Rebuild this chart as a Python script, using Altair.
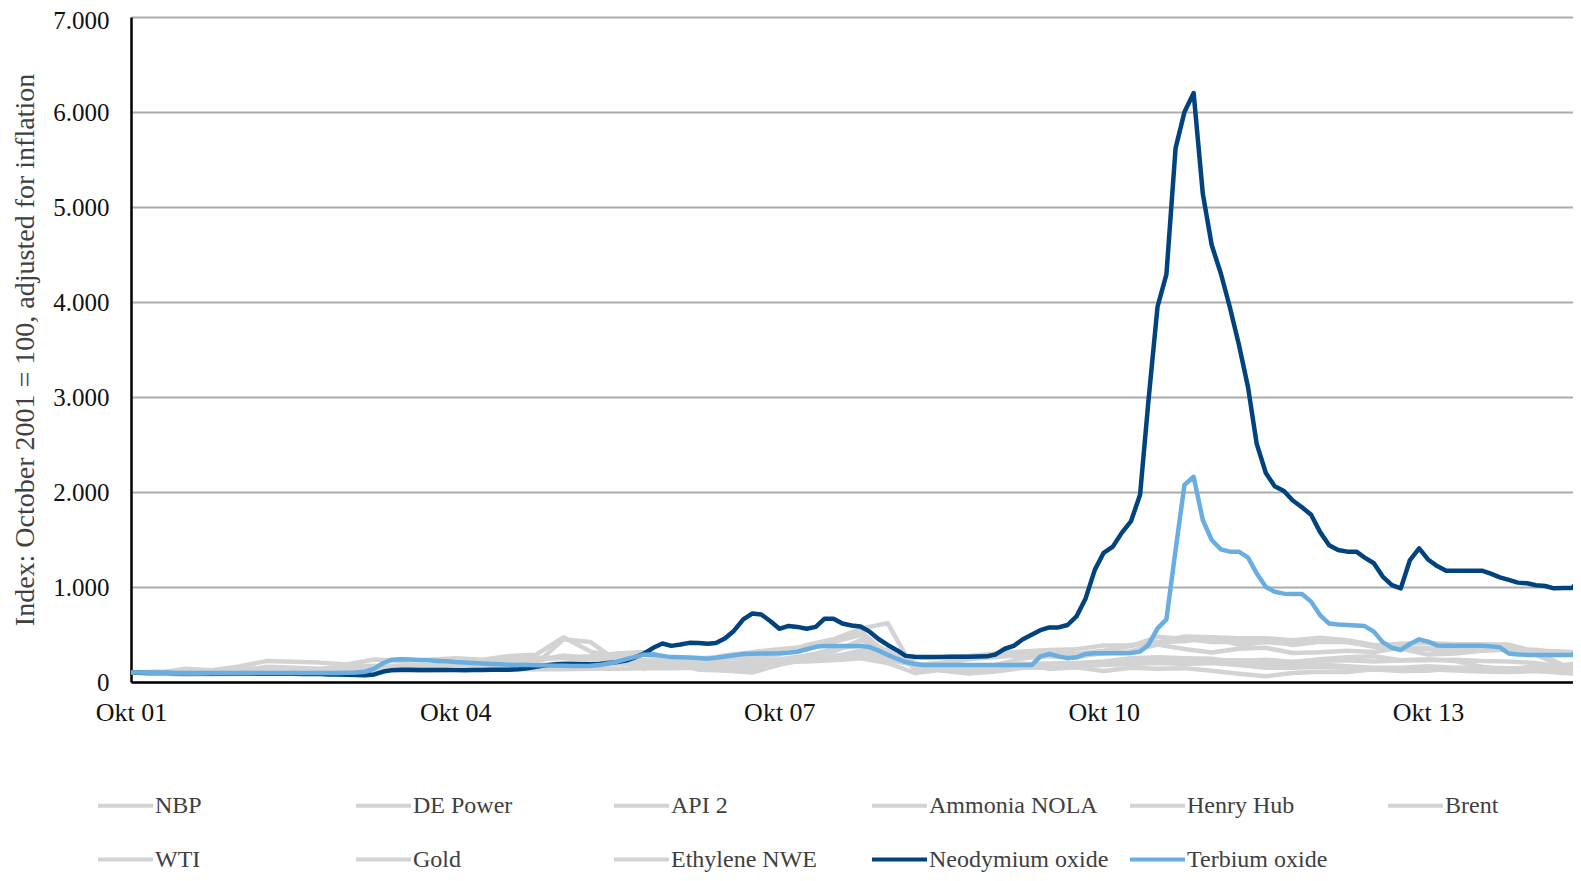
import altair as alt
import pandas as pd

# ---------------- data ----------------
# monthly dates, Oct 2001 .. Mar 2015
month_dates = pd.date_range("2001-10-01", periods=162, freq="MS").strftime("%Y-%m-%d").tolist()
# quarterly dates, Oct 2001 .. Apr 2015
quarter_dates = pd.date_range("2001-10-01", periods=55, freq="3MS").strftime("%Y-%m-%d").tolist()

neodymium = [
    100, 98, 96, 95, 94, 93, 92, 92, 91, 90, 90, 90, 89, 89, 88, 88, 87, 87, 86, 85, 84, 83, 80, 78, 75, 73,
    72, 80, 110, 125, 128, 128, 127, 127, 126, 126,
    125, 125, 126, 127, 128, 128, 130, 135, 145, 160,
    175, 185, 190, 190, 188, 188, 190, 200, 210, 225,
    260, 300, 360, 405, 380, 395, 412, 410, 402, 410,
    460, 540, 660, 720, 710, 640, 560, 590, 580, 560,
    580, 665, 665, 615, 595, 585, 530, 450, 390, 335,
    275, 265, 262, 262, 263, 265, 265, 266, 268, 270,
    290, 350, 380, 450, 500, 545, 575, 575, 600, 690,
    880, 1180, 1360, 1425, 1570, 1690, 1970, 2950, 3950, 4290,
    5620, 6000, 6200, 5140, 4600, 4300, 3950, 3550, 3100, 2510,
    2200, 2060, 2010, 1910, 1840, 1760, 1580, 1440, 1390, 1372,
    1372, 1310, 1250, 1110, 1020, 986, 1284, 1407, 1290, 1220,
    1172, 1172, 1172, 1172, 1172, 1140, 1102, 1075, 1046, 1039,
    1018, 1010, 986, 990, 990, 1100,
]

terbium = [
    100, 99, 98, 97, 97, 96, 96, 95, 95, 95, 95, 95, 95, 95, 95, 95, 95, 95, 95, 95, 95, 95, 95, 96, 97, 100,
    108, 140, 200, 235, 240, 238, 232, 228, 222, 218,
    210, 205, 200, 196, 190, 186, 182, 180, 178, 176,
    175, 172, 170, 168, 168, 170, 178, 195, 214, 240,
    265, 288, 290, 275, 262, 260, 258, 252, 246, 255,
    268, 282, 295, 298, 300, 300, 302, 308, 318, 345,
    370, 379, 379, 379, 379, 379, 368, 330, 285, 245,
    210, 190, 180, 178, 178, 179, 179, 180, 180, 180,
    179, 179, 179, 179, 180, 270, 295, 270, 250, 260,
    295, 302, 302, 302, 302, 305, 320, 390, 565, 660,
    1390, 2075, 2160, 1705, 1495, 1396, 1372, 1372, 1310, 1144,
    1000, 950, 930, 926, 926, 846, 705, 615, 605, 600,
    595, 589, 530, 420, 360, 337, 400, 449, 425, 385,
    382, 382, 382, 382, 382, 375, 365, 300, 290, 285,
    284, 284, 284, 284, 284, 380,
]

nbp = [100, 95, 90, 85, 105, 130, 100, 95, 115, 130,
       125, 120, 160, 190, 170, 190, 450, 420, 220, 140,
       200, 150, 120, 100, 180, 240, 270, 300, 290, 200,
       120, 90, 110, 150, 150, 170, 200, 220, 240, 210,
       230, 230, 220, 210, 240, 260, 270, 230, 240, 220,
       160, 130, 170, 170, 160]
de_power = [100, 110, 85, 90, 110, 120, 110, 125, 130, 120,
            115, 120, 130, 150, 155, 175, 200, 240, 190, 230,
            200, 130, 120, 140, 230, 260, 270, 330, 300, 180,
            140, 140, 150, 160, 160, 170, 180, 190, 200, 190,
            200, 180, 150, 150, 160, 150, 130, 125, 135, 120,
            110, 105, 115, 110, 100]
api2 = [100, 90, 80, 82, 85, 95, 95, 105, 115, 160,
        175, 180, 180, 145, 140, 135, 135, 140, 140, 145,
        145, 150, 160, 180, 230, 280, 320, 440, 330, 185,
        145, 150, 160, 190, 195, 200, 215, 250, 260, 250,
        245, 205, 180, 175, 185, 165, 150, 150, 165, 150,
        150, 145, 145, 120, 115]
ammonia = [100, 90, 85, 90, 110, 160, 150, 140, 160, 170,
           165, 170, 190, 200, 215, 220, 280, 250, 215, 210,
           230, 250, 260, 260, 290, 390, 450, 560, 620, 110,
           160, 150, 180, 250, 270, 260, 310, 390, 420, 430,
           470, 390, 420, 400, 440, 420, 370, 350, 290, 300,
           330, 340, 340, 300, 280]
henry_hub = [100, 95, 140, 124, 163, 220, 212, 204, 184, 237,
             222, 234, 249, 235, 273, 288, 470, 320, 263, 226,
             215, 235, 270, 221, 239, 275, 350, 382, 230, 181,
             122, 118, 139, 196, 136, 156, 115, 149, 139, 146,
             119, 87, 61, 94, 107, 105, 134, 115, 118, 147,
             144, 125, 119, 94, 81]
brent = [100, 94, 124, 124, 132, 147, 117, 134, 138, 142,
         153, 173, 227, 196, 231, 255, 259, 272, 300, 316,
         250, 226, 281, 314, 345, 372, 440, 536, 290, 179,
         203, 264, 297, 306, 333, 297, 329, 378, 476, 453,
         422, 422, 450, 390, 423, 422, 383, 402, 410, 398,
         398, 394, 320, 176, 220]
wti = [100, 88, 115, 120, 128, 145, 122, 133, 126, 142,
       154, 175, 225, 197, 216, 240, 252, 260, 275, 290,
       232, 210, 246, 285, 322, 345, 420, 495, 290, 155,
       190, 240, 262, 282, 300, 278, 300, 324, 395, 348,
       310, 350, 360, 305, 312, 328, 315, 360, 345, 325,
       340, 350, 285, 160, 180]
gold = [100, 102, 108, 108, 110, 122, 113, 120, 132, 135,
        133, 130, 140, 138, 138, 137, 152, 172, 200, 195,
        180, 192, 205, 203, 230, 265, 270, 275, 240, 255,
        262, 275, 300, 322, 336, 346, 385, 385, 415, 480,
        470, 460, 460, 440, 465, 440, 390, 350, 355, 335,
        345, 350, 330, 320, 300]
ethylene = [100, 90, 100, 105, 108, 120, 125, 110, 115, 120,
            135, 150, 170, 165, 160, 165, 190, 185, 190, 195,
            180, 185, 200, 200, 210, 215, 230, 250, 200, 95,
            130, 150, 165, 175, 190, 175, 190, 215, 230, 220,
            210, 215, 235, 210, 225, 230, 215, 225, 230, 235,
            220, 215, 200, 150, 160]

gray_names = ["NBP", "DE Power", "API 2", "Ammonia NOLA", "Henry Hub", "Brent",
              "WTI", "Gold", "Ethylene NWE"]
gray_values = [nbp, de_power, api2, ammonia, henry_hub, brent, wti, gold, ethylene]
series_order = gray_names + ["Neodymium oxide", "Terbium oxide"]
series_colors = ["#d3d3d3"] * 9 + ["#00437f", "#6aade0"]

y_ticks = [0, 1000, 2000, 3000, 4000, 5000, 6000, 7000]
x_tick_years = [2001, 2004, 2007, 2010, 2013]

# ---------------- tables ----------------
gray_rows = []
for name, vals in zip(gray_names, gray_values):
    for d, v in zip(quarter_dates, vals):
        gray_rows.append({"date": d, "value": v, "series": name})
gray_df = pd.DataFrame(gray_rows)
neo_df = pd.DataFrame({"date": month_dates, "value": neodymium, "series": "Neodymium oxide"})
ter_df = pd.DataFrame({"date": month_dates, "value": terbium, "series": "Terbium oxide"})

FONT = "Liberation Serif"

x_enc = alt.X(
    "date:T",
    scale=alt.Scale(
        type="utc",
        domain=[alt.DateTime(year=2001, month=10, date=1, utc=True),
                alt.DateTime(year=2015, month=2, date=3, utc=True)],
    ),
    axis=alt.Axis(
        values=[alt.DateTime(year=y, month=10, date=1, utc=True) for y in x_tick_years],
        labelExpr="'Okt ' + utcFormat(datum.value, '%y')",
        grid=False, ticks=False, tickSize=0,
        domainColor="#000000", domainWidth=2.5,
        labelFont=FONT, labelFontSize=26, labelColor="#111111",
        labelPadding=17, labelAngle=0, labelAlign="center",
        title=None,
    ),
)
y_enc = alt.Y(
    "value:Q",
    scale=alt.Scale(domain=[0, 7000], nice=False),
    axis=alt.Axis(
        values=y_ticks,
        labelExpr="datum.value == 0 ? '0' : replace(format(datum.value, ',d'), ',', '.')",
        labelOffset={"condition": {"test": "datum.value == 7000", "value": 3}, "value": 0},
        grid=True, gridColor="#ababab", gridWidth=2,
        ticks=False, tickSize=0,
        domainColor="#000000", domainWidth=2.5,
        labelFont=FONT, labelFontSize=25, labelColor="#111111", labelPadding=22,
        title="Index: October 2001 = 100, adjusted for inflation",
        titleFont=FONT, titleFontSize=28, titleFontWeight="normal", titleColor="#404040",
        titleAngle=270, titleAlign="center", titleBaseline="middle",
        titleX=-106, titleY=332.5,
    ),
)
color_enc = alt.Color(
    "series:N",
    scale=alt.Scale(domain=series_order, range=series_colors),
    sort=series_order,
    legend=alt.Legend(
        orient="none", legendX=-35, legendY=759,
        columns=6, direction="horizontal", gridAlign="all",
        symbolType="stroke", symbolSize=3025, symbolStrokeWidth=4,
        labelFont=FONT, labelFontSize=24, labelColor="#404040",
        labelLimit=400, labelOffset=0,
        columnPadding=13, rowPadding=12, title=None,
    ),
)

def line_layer(df):
    return alt.Chart(df).mark_line(strokeWidth=4.5, strokeJoin="round", clip=True).encode(
        x=x_enc, y=y_enc, color=color_enc, detail="series:N"
    )

chart = alt.layer(line_layer(gray_df), line_layer(neo_df), line_layer(ter_df)).resolve_scale(
    color="shared"
).properties(
    width=1442, height=665,
    padding={"left": 123, "top": 9, "right": 0, "bottom": 191},
    autosize=alt.AutoSizeParams(type="none"),
    background="white",
).configure_view(strokeWidth=0)

chart.save("out.html", embed_options={"renderer": "svg", "actions": False})
